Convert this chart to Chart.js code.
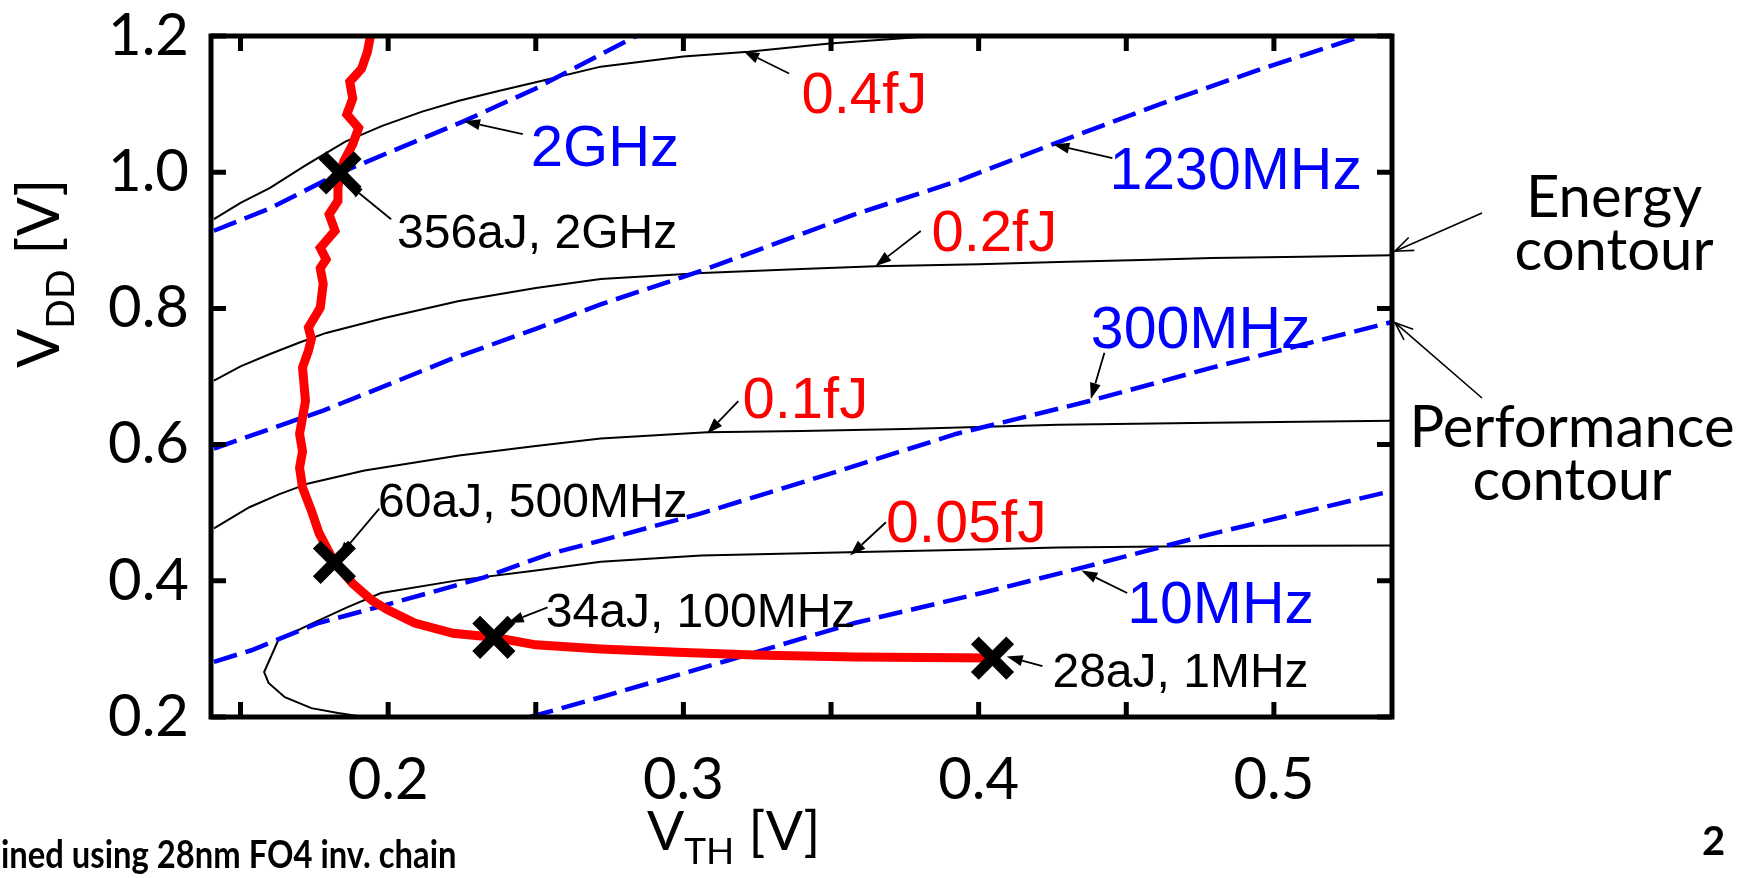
<!DOCTYPE html>
<html>
<head>
<meta charset="utf-8">
<script src="https://cdn.jsdelivr.net/npm/chart.js@4.4.0/dist/chart.umd.min.js"></script>
<style>
  html, body { margin: 0; padding: 0; background: #fff; }
</style>
</head>
<body>
<canvas id="vdd-vth-chart" width="1758" height="878"></canvas>
<script>
// Energy / performance contours over (VTH, VDD), 28nm FO4 inverter chain

// axis ticks
const xTickValues = [0.15, 0.20, 0.25, 0.30, 0.35, 0.40, 0.45, 0.50];
const yTickValues = [0.2, 0.4, 0.6, 0.8, 1.0, 1.2];

// energy contours (black, solid)
const e04Vth = [0.141, 0.150, 0.160, 0.172, 0.1855, 0.198, 0.2115, 0.224, 0.237, 0.250, 0.272, 0.300, 0.322, 0.3495, 0.379, 0.393];
const e04Vdd = [0.931, 0.955, 0.977, 1.010, 1.045, 1.068, 1.089, 1.105, 1.119, 1.132, 1.155, 1.170, 1.177, 1.189, 1.198, 1.200];

const e02Vth = [0.141, 0.150, 0.160, 0.170, 0.179, 0.1987, 0.224, 0.250, 0.272, 0.3064, 0.340, 0.365, 0.400, 0.427, 0.455, 0.479, 0.510, 0.540];
const e02Vdd = [0.694, 0.715, 0.733, 0.750, 0.764, 0.786, 0.811, 0.830, 0.843, 0.852, 0.858, 0.862, 0.865, 0.868, 0.871, 0.874, 0.876, 0.878];

const e01Vth = [0.141, 0.153, 0.163, 0.173, 0.192, 0.224, 0.250, 0.272, 0.308, 0.340, 0.375, 0.427, 0.479, 0.540];
const e01Vdd = [0.477, 0.508, 0.527, 0.543, 0.562, 0.584, 0.598, 0.609, 0.618, 0.620, 0.623, 0.629, 0.632, 0.635];

const e005Vth = [0.192, 0.183, 0.174, 0.165, 0.1595, 0.158, 0.1628, 0.1716, 0.1855, 0.1976, 0.224, 0.250, 0.272, 0.306, 0.356, 0.400, 0.427, 0.480, 0.540];
const e005Vdd = [0.200, 0.206, 0.213, 0.229, 0.250, 0.266, 0.313, 0.332, 0.360, 0.382, 0.401, 0.415, 0.428, 0.437, 0.442, 0.446, 0.449, 0.451, 0.452];

// performance contours (blue, dashed)
const f2gVth = [0.141, 0.160, 0.1837, 0.1986, 0.2257, 0.250, 0.272, 0.284];
const f2gVdd = [0.914, 0.947, 0.999, 1.026, 1.075, 1.123, 1.173, 1.200];

const f1230Vth = [0.141, 0.160, 0.178, 0.200, 0.221, 0.250, 0.272, 0.306, 0.358, 0.393, 0.425, 0.4615, 0.496, 0.530];
const f1230Vdd = [0.594, 0.623, 0.650, 0.688, 0.725, 0.770, 0.806, 0.855, 0.938, 0.987, 1.041, 1.100, 1.152, 1.200];

const f300Vth = [0.141, 0.1537, 0.1764, 0.1987, 0.217, 0.2325, 0.255, 0.272, 0.306, 0.3495, 0.3926, 0.4375, 0.479, 0.540];
const f300Vdd = [0.281, 0.298, 0.338, 0.364, 0.386, 0.405, 0.440, 0.459, 0.499, 0.557, 0.616, 0.664, 0.713, 0.780];

const f10Vth = [0.248, 0.272, 0.315, 0.358, 0.401, 0.4357, 0.479, 0.540];
const f10Vdd = [0.200, 0.229, 0.283, 0.338, 0.382, 0.420, 0.469, 0.532];

// minimum-energy locus (red)
const minVth = [0.194, 0.193, 0.191, 0.187, 0.188, 0.186, 0.190, 0.188, 0.185, 0.1837, 0.183, 0.183, 0.180, 0.182, 0.177, 0.179, 0.177, 0.178, 0.177, 0.173, 0.174, 0.173, 0.171, 0.172, 0.170, 0.171, 0.170, 0.171, 0.174, 0.1766, 0.1818, 0.188, 0.1946, 0.200, 0.209, 0.222, 0.2358, 0.250, 0.272, 0.298, 0.324, 0.358, 0.4047];
const minVdd = [1.200, 1.177, 1.152, 1.133, 1.108, 1.085, 1.065, 1.041, 1.016, 0.999, 0.977, 0.958, 0.938, 0.914, 0.889, 0.872, 0.859, 0.836, 0.801, 0.772, 0.755, 0.738, 0.713, 0.664, 0.616, 0.590, 0.566, 0.537, 0.503, 0.470, 0.427, 0.396, 0.371, 0.357, 0.338, 0.323, 0.317, 0.306, 0.300, 0.295, 0.291, 0.288, 0.2865];

// marked operating points
const markVth = [0.1837, 0.1818, 0.2358, 0.4047];
const markVdd = [0.999, 0.427, 0.317, 0.2865];
const markLabels = ['356aJ, 2GHz', '60aJ, 500MHz', '34aJ, 100MHz', '28aJ, 1MHz'];

const energyLabels = ['0.4fJ', '0.2fJ', '0.1fJ', '0.05fJ'];
const perfLabels = ['2GHz', '1230MHz', '300MHz', '10MHz'];

const toPoints = (xs, ys) => xs.map((x, i) => ({ x, y: ys[i] }));

const RED = '#ff0000', BLUE = '#0000ff', BLACK = '#000000';
const ARIAL = '"Liberation Sans", Arial, sans-serif';
const CALI = 'Lato, "Open Sans", sans-serif';
const DASH = [24, 9];

function lineSet(label, xs, ys, color, width, dash, order) {
  return {
    label, data: toPoints(xs, ys), showLine: true,
    borderColor: color, borderWidth: width, borderDash: dash,
    pointRadius: 0, fill: false, tension: 0, order
  };
}

// in-plot callouts: text at (x, y) baseline-left, arrow from -> to, all in data units
const callouts = [
  { text: energyLabels[0], color: RED, size: 58, x: 0.340, y: 1.0864, from: [0.3358, 1.145], to: [0.3203, 1.178] },
  { text: perfLabels[0], color: BLUE, size: 58, x: 0.2483, y: 1.0088, from: [0.2456, 1.056], to: [0.2257, 1.075] },
  { text: perfLabels[1], color: BLUE, size: 59, x: 0.4443, y: 0.975, from: [0.4453, 1.0205], to: [0.4253, 1.0405] },
  { text: markLabels[0], color: BLACK, size: 48, x: 0.203, y: 0.8886, from: [0.201, 0.931], to: [0.186, 0.984] },
  { text: energyLabels[1], color: RED, size: 58, x: 0.384, y: 0.884, from: [0.3804, 0.9136], to: [0.365, 0.862] },
  { text: perfLabels[2], color: BLUE, size: 59, x: 0.438, y: 0.742, from: [0.4426, 0.735], to: [0.438, 0.667] },
  { text: energyLabels[2], color: RED, size: 58, x: 0.320, y: 0.6396, from: [0.3186, 0.664], to: [0.308, 0.616] },
  { text: markLabels[1], color: BLACK, size: 48, x: 0.1966, y: 0.493, from: [0.197, 0.506], to: [0.183, 0.434] },
  { text: energyLabels[3], color: RED, size: 59, x: 0.3686, y: 0.4564, from: [0.3686, 0.486], to: [0.3564, 0.437] },
  { text: markLabels[2], color: BLACK, size: 48, x: 0.2534, y: 0.3319, from: [0.254, 0.361], to: [0.2405, 0.338] },
  { text: perfLabels[3], color: BLUE, size: 59, x: 0.4503, y: 0.3377, from: [0.4503, 0.382], to: [0.4348, 0.415] },
  { text: markLabels[3], color: BLACK, size: 48, x: 0.425, y: 0.244, from: [0.4216, 0.2747], to: [0.4095, 0.289] }
];

function drawArrow(ctx, x1, y1, x2, y2, open) {
  const ang = Math.atan2(y2 - y1, x2 - x1);
  const len = open ? 18 : 16, half = open ? 7 : 5.5;
  const bx = x2 - len * Math.cos(ang), by = y2 - len * Math.sin(ang);
  const nx = -Math.sin(ang) * half, ny = Math.cos(ang) * half;
  ctx.beginPath();
  ctx.moveTo(x1, y1);
  ctx.lineTo(open ? x2 : bx, open ? y2 : by);
  ctx.stroke();
  ctx.beginPath();
  if (open) {
    ctx.moveTo(bx + nx, by + ny); ctx.lineTo(x2, y2); ctx.lineTo(bx - nx, by - ny);
    ctx.stroke();
  } else {
    ctx.moveTo(x2, y2); ctx.lineTo(bx + nx, by + ny); ctx.lineTo(bx - nx, by - ny);
    ctx.closePath(); ctx.fill();
  }
}

const frameAndNotes = {
  id: 'frameAndNotes',
  afterDatasetsDraw(chart) {
    const { ctx, chartArea: a, scales: { x, y } } = chart;
    const px = v => x.getPixelForValue(v), py = v => y.getPixelForValue(v);
    ctx.save();

    // plot frame + inward ticks on all four sides
    ctx.strokeStyle = BLACK; ctx.lineWidth = 5; ctx.lineJoin = 'miter';
    ctx.strokeRect(a.left, a.top, a.right - a.left, a.bottom - a.top);
    ctx.beginPath();
    x.ticks.forEach(t => {
      const p = px(t.value);
      ctx.moveTo(p, a.bottom); ctx.lineTo(p, a.bottom - 15);
      ctx.moveTo(p, a.top); ctx.lineTo(p, a.top + 15);
    });
    y.ticks.forEach(t => {
      const p = py(t.value);
      ctx.moveTo(a.left, p); ctx.lineTo(a.left + 15, p);
      ctx.moveTo(a.right, p); ctx.lineTo(a.right - 15, p);
    });
    ctx.stroke();

    // callouts
    ctx.lineWidth = 1.8; ctx.strokeStyle = BLACK; ctx.fillStyle = BLACK;
    callouts.forEach(c => {
      drawArrow(ctx, px(c.from[0]), py(c.from[1]), px(c.to[0]), py(c.to[1]), false);
    });
    ctx.textBaseline = 'alphabetic'; ctx.textAlign = 'left';
    callouts.forEach(c => {
      ctx.font = `${c.size}px ${ARIAL}`;
      ctx.fillStyle = c.color;
      ctx.fillText(c.text, px(c.x), py(c.y));
    });

    // side notes pointing at the right frame
    ctx.fillStyle = BLACK; ctx.strokeStyle = BLACK; ctx.lineWidth = 1.6;
    drawArrow(ctx, a.right + 90, a.top + 177, a.right + 3, py(0.884), true);
    drawArrow(ctx, a.right + 90, a.top + 362, a.right + 3, py(0.779), true);
    ctx.font = `58px ${CALI}`; ctx.textAlign = 'center';
    ctx.fillText('Energy', a.right + 222, 217);
    ctx.fillText('contour', a.right + 222, 270);
    ctx.fillText('Performance', a.right + 180, 447);
    ctx.fillText('contour', a.right + 180, 500);

    // axis titles with subscripts
    ctx.textAlign = 'left';
    let w = a.left + 436;
    ctx.font = `55px ${CALI}`; ctx.fillText('V', w, 850); w += ctx.measureText('V').width;
    ctx.font = `37px ${CALI}`; ctx.fillText('TH', w, 864); w += ctx.measureText('TH').width;
    ctx.font = `55px ${CALI}`; ctx.fillText(' [V]', w, 850);

    ctx.save();
    ctx.translate(59, 368); ctx.rotate(-Math.PI / 2);
    w = 0;
    ctx.font = `58px ${CALI}`; ctx.fillText('V', w, 0); w += ctx.measureText('V').width;
    ctx.font = `39px ${CALI}`; ctx.fillText('DD', w, 15); w += ctx.measureText('DD').width;
    ctx.font = `58px ${CALI}`; ctx.fillText(' [V]', w, 0);
    ctx.restore();

    // slide footer (narrow bold face, squeezed a little) and page number
    ctx.save();
    ctx.translate(1, 868); ctx.scale(0.84, 1);
    ctx.font = `bold 39px ${CALI}`;
    ctx.fillText('ined using 28nm FO4 inv. chain', 0, 0);
    ctx.restore();
    ctx.font = `bold 40px ${CALI}`;
    ctx.fillText('2', 1702, 855);
    ctx.restore();
  }
};

const tickFont = { family: CALI, size: 58 };

new Chart(document.getElementById('vdd-vth-chart'), {
  type: 'scatter',
  data: {
    datasets: [
      { label: 'points', data: toPoints(markVth, markVdd), pointStyle: 'crossRot',
        pointRadius: 25, pointBorderWidth: 11, borderWidth: 11,
        borderColor: BLACK, backgroundColor: BLACK, showLine: false, order: 0, clip: false },
      lineSet('min energy', minVth, minVdd, RED, 9, [], 1),
      lineSet('2GHz', f2gVth, f2gVdd, BLUE, 4.5, DASH, 2),
      lineSet('1230MHz', f1230Vth, f1230Vdd, BLUE, 4.5, DASH, 2),
      lineSet('300MHz', f300Vth, f300Vdd, BLUE, 4.5, DASH, 2),
      lineSet('10MHz', f10Vth, f10Vdd, BLUE, 4.5, DASH, 2),
      lineSet('0.4fJ', e04Vth, e04Vdd, BLACK, 2, [], 3),
      lineSet('0.2fJ', e02Vth, e02Vdd, BLACK, 2, [], 3),
      lineSet('0.1fJ', e01Vth, e01Vdd, BLACK, 2, [], 3),
      lineSet('0.05fJ', e005Vth, e005Vdd, BLACK, 2, [], 3)
    ]
  },
  options: {
    responsive: false,
    animation: false,
    devicePixelRatio: 1,
    events: [],
    layout: { padding: { left: 0, top: 34, right: 366, bottom: 0 } },
    plugins: { legend: { display: false }, tooltip: { enabled: false } },
    scales: {
      x: {
        type: 'linear', position: 'bottom', min: 0.14, max: 0.54,
        grid: { display: false }, border: { display: false },
        afterBuildTicks: axis => { axis.ticks = xTickValues.map(value => ({ value })); },
        ticks: {
          autoSkip: false, maxRotation: 0,
          color: BLACK, font: tickFont, padding: 20,
          callback: v => Math.abs(v * 10 - Math.round(v * 10)) < 1e-6 ? v.toFixed(1) : ''
        },
        afterFit: axis => {
          axis.height = 161;
          axis.paddingLeft = 0; axis.paddingRight = 0;
        }
      },
      y: {
        type: 'linear', position: 'left', min: 0.2, max: 1.2,
        grid: { display: false }, border: { display: false },
        afterBuildTicks: axis => { axis.ticks = yTickValues.map(value => ({ value })); },
        ticks: {
          color: BLACK, font: tickFont, padding: 14,
          callback: v => v.toFixed(1)
        },
        afterFit: axis => {
          axis.width = 211;
          axis.paddingTop = 0; axis.paddingBottom = 0;
        }
      }
    }
  },
  plugins: [frameAndNotes]
});
</script>
</body>
</html>
